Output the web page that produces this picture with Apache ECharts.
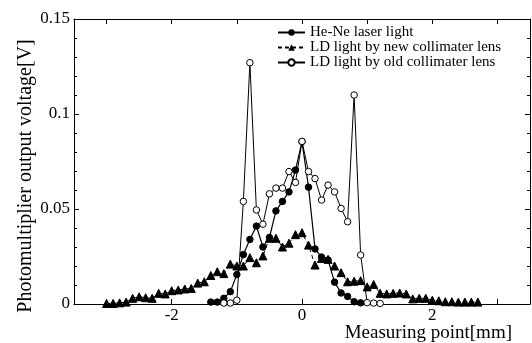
<!DOCTYPE html>
<html><head><meta charset="utf-8">
<script src="https://cdn.jsdelivr.net/npm/echarts@6/dist/echarts.min.js"></script>
<style>html,body{margin:0;padding:0;background:#fff}#c{width:532px;height:343px}</style>
</head><body><div id="c"></div>
<script>
const seriesNames = ['He-Ne laser light', 'LD light by new collimater lens', 'LD light by old collimater lens'];
const heNeX = [-1.4,-1.3,-1.2,-1.1,-1.0,-0.9,-0.8,-0.7,-0.6,-0.5,-0.4,-0.3,-0.2,-0.1,0,0.1,0.2,0.3,0.4,0.5,0.6,0.7,0.8,0.9];
const heNeY = [0.001,0.001,0.003,0.0065,0.0155,0.026,0.034,0.041,0.030,0.035,0.049,0.054,0.059,0.0705,0.0855,0.0615,0.029,0.0247,0.0232,0.0115,0.0058,0.004,0.0012,0.0006];
const newX = [-3.0,-2.9,-2.8,-2.7,-2.6,-2.5,-2.4,-2.3,-2.2,-2.1,-2.0,-1.9,-1.8,-1.7,-1.6,-1.5,-1.4,-1.3,-1.2,-1.1,-1.0,-0.9,-0.8,-0.7,-0.6,-0.5,-0.4,-0.3,-0.2,-0.1,0,0.1,0.2,0.3,0.4,0.5,0.6,0.7,0.8,0.9,1.0,1.1,1.2,1.3,1.4,1.5,1.6,1.7,1.8,1.9,2.0,2.1,2.2,2.3,2.4,2.5,2.6,2.7];
const newY = [0.0003,0.0003,0.0006,0.001,0.003,0.0038,0.0033,0.003,0.0056,0.0053,0.007,0.0074,0.0079,0.0082,0.011,0.0117,0.015,0.017,0.016,0.021,0.020,0.020,0.0244,0.0217,0.0253,0.0346,0.0346,0.030,0.032,0.0365,0.0375,0.031,0.0205,0.024,0.0235,0.020,0.0165,0.0117,0.012,0.0123,0.009,0.0103,0.0056,0.0053,0.0056,0.0058,0.0053,0.0027,0.003,0.003,0.002,0.0017,0.0012,0.0012,0.001,0.001,0.001,0.001];
const oldX = [-1.2,-1.1,-1.0,-0.9,-0.8,-0.7,-0.6,-0.5,-0.4,-0.3,-0.2,-0.1,0,0.1,0.2,0.3,0.4,0.5,0.6,0.7,0.8,0.9,1.0,1.1,1.2];
const oldY = [0.0005,0.0005,0.002,0.054,0.127,0.0495,0.042,0.058,0.061,0.061,0.0697,0.064,0.0856,0.0697,0.066,0.0547,0.0626,0.059,0.0503,0.0433,0.110,0.0258,0.0007,0.0005,0.0003];
const xTickLabels = [-2, 0, 2];
const xTickValues = [-3, -2, -1, 0, 1, 2, 3];
const xTitle = 'Measuring point[mm]';
const yTitle = 'Photomultiplier output voltage[V]';

const SERIF = '"Liberation Serif","DejaVu Serif",serif';
const zip = (xs, ys) => xs.map((x, i) => [x, ys[i]]);
const chart = echarts.init(document.getElementById('c'), null, {renderer: 'canvas'});
const axisLine = {show: true, onZero: false, lineStyle: {color: '#000', width: 1}};
const baseX = {type: 'value', min: -3.5, max: 3.5, splitLine: {show: false}, axisLine};
const baseY = {type: 'value', min: 0, max: 0.15, interval: 0.05, splitLine: {show: false}, axisLine,
  axisTick: {inside: true, length: 5, lineStyle: {color: '#000'}},
  minorTick: {show: true, splitNumber: 5, length: 3, lineStyle: {color: '#000'}}};
chart.setOption({
  animation: false,
  backgroundColor: '#fff',
  grid: {left: 74, right: 2, top: 19, bottom: 39},
  legend: {
    data: seriesNames, orient: 'vertical', left: 277, top: 25, padding: 0,
    itemWidth: 27, itemHeight: 8, itemGap: 0,
    textStyle: {fontFamily: SERIF, fontSize: 15, color: '#000', lineHeight: 15}
  },
  xAxis: [
    Object.assign({}, baseX, {position: 'bottom',
      axisTick: {inside: true, length: 5, customValues: xTickValues, lineStyle: {color: '#000'}},
      axisLabel: {customValues: xTickLabels, margin: 3, fontFamily: SERIF, fontSize: 17, color: '#000'}}),
    Object.assign({}, baseX, {position: 'top',
      axisTick: {inside: true, length: 5, customValues: xTickValues, lineStyle: {color: '#000'}},
      axisLabel: {show: false}})
  ],
  yAxis: [
    Object.assign({}, baseY, {position: 'left',
      axisLabel: {margin: 4, fontFamily: SERIF, fontSize: 17, color: '#000'}}),
    Object.assign({}, baseY, {position: 'right', axisLabel: {show: false}})
  ],
  graphic: [
    {type: 'text', x: 512, y: 333, style: {text: xTitle, fontFamily: SERIF, fontSize: 19, fill: '#000', align: 'right', verticalAlign: 'middle'}},
    {type: 'text', x: 26, y: 176, rotation: Math.PI / 2, style: {text: yTitle, fontFamily: SERIF, fontSize: 20, fill: '#000', align: 'center', verticalAlign: 'middle'}}
  ],
  series: [
    {type: 'line', name: seriesNames[0], data: zip(heNeX, heNeY), symbol: 'circle', symbolSize: 6.5, showAllSymbol: true,
      itemStyle: {color: '#000', borderColor: '#000'}, lineStyle: {color: '#000', width: 1.2}},
    {type: 'line', name: seriesNames[1], data: zip(newX, newY), symbol: 'triangle', symbolSize: 8, showAllSymbol: true,
      itemStyle: {color: '#000', borderColor: '#000'}, lineStyle: {color: '#000', width: 1, type: [4, 3]}},
    {type: 'line', name: seriesNames[2], data: zip(oldX, oldY), symbol: 'circle', symbolSize: 6.5, showAllSymbol: true,
      itemStyle: {color: '#fff', borderColor: '#000', borderWidth: 1}, lineStyle: {color: '#000', width: 1}}
  ]
});
</script></body></html>
